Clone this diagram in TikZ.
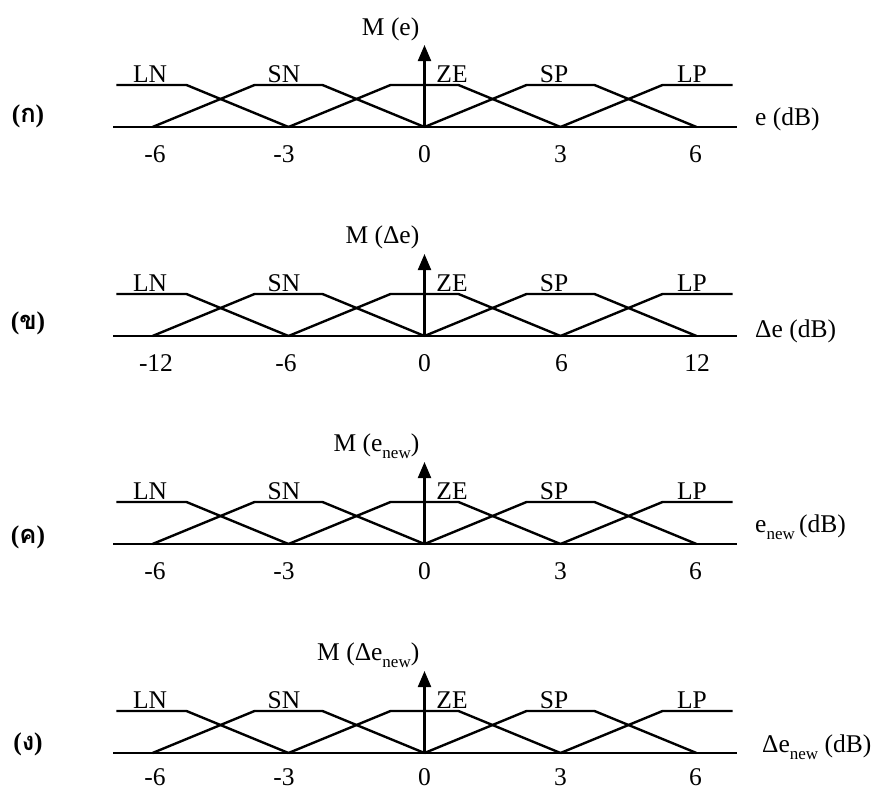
\documentclass[tikz,border=0pt]{standalone}
\usepackage{fontspec}
\setmainfont{Liberation Serif}
\newfontfamily\thaifont[Script=Thai]{Loma}
\usetikzlibrary{arrows.meta}
\def\su{136}
\newcommand\subnew{\raisebox{-0.28em}{\fontsize{17}{17}\selectfont new}}
\tikzset{
  mf/.style={line width=2.4pt, line join=miter},
  axisline/.style={line width=2.4pt},
  yarrow/.style={line width=2.2pt, -{Triangle[width=13pt,length=16pt]}},
  lbl/.style={anchor=base, inner sep=0pt, font=\fontsize{25.5}{28}\selectfont},
  tick/.style={anchor=base, inner sep=0pt, font=\fontsize{25.5}{28}\selectfont},
  ylbl/.style={anchor=base east, inner sep=0pt, font=\fontsize{25.5}{28}\selectfont},
  xlbl/.style={anchor=base west, inner sep=0pt, font=\fontsize{25.5}{28}\selectfont},
  plbl/.style={anchor=center, inner sep=0pt, font=\fontsize{25.5}{28}\selectfont\bfseries}
}
\newcommand\mfcurves[1]{%
  \coordinate (#1o) at (0,0);
  \coordinate (#1l) at (-2.29*\su,0);
  \coordinate (#1r) at (2.30*\su,0);
  \coordinate (#1t) at (0,-82);
  \draw[axisline] (#1l) -- (#1r);
  \draw[mf] (-2.265*\su,-42) -- (-1.75*\su,-42) -- (-1*\su,0);
  \draw[mf] (-2*\su,0) -- (-1.25*\su,-42) -- (-0.75*\su,-42) -- (0,0);
  \draw[mf] (-1*\su,0) -- (-0.25*\su,-42) -- (0.25*\su,-42) -- (1*\su,0);
  \draw[mf] (0,0) -- (0.75*\su,-42) -- (1.25*\su,-42) -- (2*\su,0);
  \draw[mf] (1*\su,0) -- (1.75*\su,-42) -- (2.265*\su,-42);
  \draw[yarrow] (#1o) -- (#1t);
  \node[lbl] (#1LN) at (-274.5,-45) {LN};
  \node[lbl] (#1SN) at (-140.5,-45) {SN};
  \node[lbl] (#1ZE) at (27.5,-45) {ZE};
  \node[lbl] (#1SP) at (129.5,-45) {SP};
  \node[lbl] (#1LP) at (267.5,-45) {LP};
}
\begin{document}
\begin{tikzpicture}[x=1pt,y=-1pt]
\useasboundingbox (0,0) rectangle (877,790);
% panel 1
\begin{scope}[shift={(424.5,127)}]
  \mfcurves{a}
  \node[tick] (at1) at (-269.5,35) {-6};
  \node[tick] (at2) at (-140.5,35) {-3};
  \node[tick] (at3) at (0,35) {0};
  \node[tick] (at4) at (136,35) {3};
  \node[tick] (at5) at (271,35) {6};
  \node[ylbl] (aM) at (-5,-92) {M (e)};
  \node[xlbl] (aX) at (330.5,-1.5) {e (dB)};
  \node[plbl] (aP) at (-396.5,-11) {({\thaifont\bfseries ก})};
\end{scope}
% panel 2
\begin{scope}[shift={(424.5,336)}]
  \mfcurves{b}
  \node[tick] (bt1) at (-268.5,35) {-12};
  \node[tick] (bt2) at (-138.5,35) {-6};
  \node[tick] (bt3) at (0,35) {0};
  \node[tick] (bt4) at (137,35) {6};
  \node[tick] (bt5) at (272.5,35) {12};
  \node[ylbl] (bM) at (-5,-93) {M (Δe)};
  \node[xlbl] (bX) at (330.5,1) {Δe (dB)};
  \node[plbl] (bP) at (-396.5,-13) {({\thaifont\bfseries ข})};
\end{scope}
% panel 3
\begin{scope}[shift={(424.5,544)}]
  \mfcurves{c}
  \node[tick] (ct1) at (-269.5,35) {-6};
  \node[tick] (ct2) at (-140.5,35) {-3};
  \node[tick] (ct3) at (0,35) {0};
  \node[tick] (ct4) at (136,35) {3};
  \node[tick] (ct5) at (271,35) {6};
  \node[ylbl] (cM) at (-5,-93) {M (e\subnew)};
  \node[xlbl] (cX) at (330.5,-11.5) {e\subnew\,(dB)};
  \node[plbl] (cP) at (-396.5,-7) {({\thaifont\bfseries ค})};
\end{scope}
% panel 4
\begin{scope}[shift={(424.5,753)}]
  \mfcurves{d}
  \node[tick] (dt1) at (-269.5,32) {-6};
  \node[tick] (dt2) at (-140.5,32) {-3};
  \node[tick] (dt3) at (0,32) {0};
  \node[tick] (dt4) at (136,32) {3};
  \node[tick] (dt5) at (271,32) {6};
  \node[ylbl] (dM) at (-5,-93) {M (Δe\subnew)};
  \node[xlbl] (dX) at (337.5,-1) {Δe\subnew\ (dB)};
  \node[plbl] (dP) at (-396.5,-9) {({\thaifont\bfseries ง})};
\end{scope}
\end{tikzpicture}
\end{document}
